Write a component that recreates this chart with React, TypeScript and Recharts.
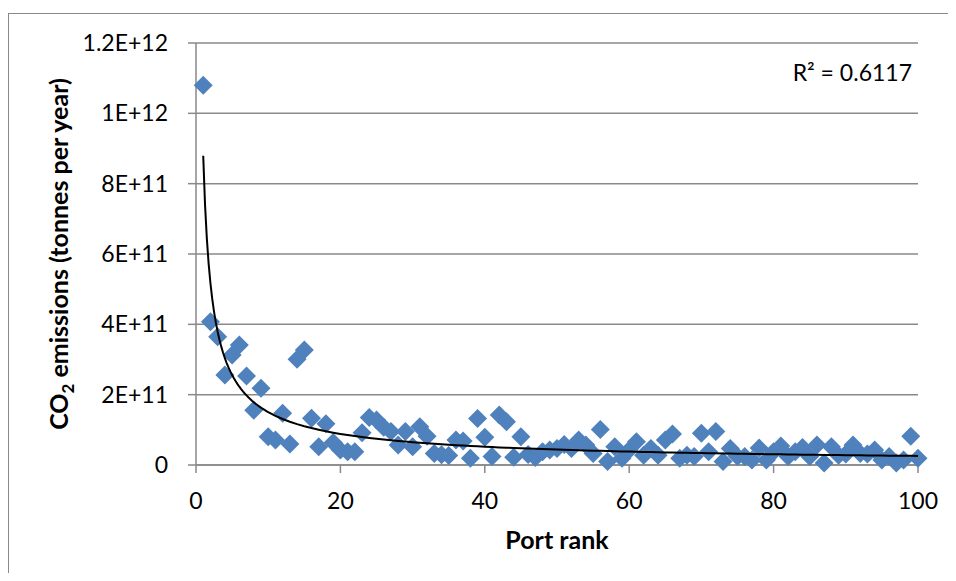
import React from 'react'
import { ScatterChart, Scatter, XAxis, YAxis, CartesianGrid } from 'recharts'

// Port rank 1..100
const RANKS = Array.from({ length: 100 }, (_, i) => i + 1)

// CO2 emissions per port, in units of 1E+11 tonnes per year
const EMISSIONS = [
  10.8, 4.07, 3.65, 2.56, 3.13, 3.41, 2.53, 1.56, 2.18, 0.8,
  0.71, 1.47, 0.6, 3.01, 3.27, 1.33, 0.52, 1.17, 0.64, 0.43,
  0.38, 0.38, 0.92, 1.35, 1.28, 1.07, 0.95, 0.57, 0.95, 0.52,
  1.09, 0.82, 0.33, 0.29, 0.27, 0.71, 0.68, 0.19, 1.32, 0.79,
  0.24, 1.42, 1.23, 0.22, 0.8, 0.3, 0.21, 0.38, 0.43, 0.47,
  0.58, 0.47, 0.71, 0.57, 0.33, 1.01, 0.1, 0.52, 0.19, 0.43,
  0.66, 0.28, 0.47, 0.28, 0.71, 0.88, 0.19, 0.28, 0.24, 0.9,
  0.38, 0.95, 0.1, 0.47, 0.24, 0.24, 0.14, 0.48, 0.14, 0.38,
  0.54, 0.24, 0.38, 0.5, 0.24, 0.57, 0.06, 0.52, 0.28, 0.31,
  0.57, 0.33, 0.31, 0.43, 0.14, 0.24, 0.06, 0.14, 0.82, 0.19,
]

const X_TICKS = [0, 20, 40, 60, 80, 100]
const Y_TICKS = [0, 2e11, 4e11, 6e11, 8e11, 1e12, 1.2e12]
const Y_LABELS = ['0', '2E+11', '4E+11', '6E+11', '8E+11', '1E+12', '1.2E+12']

const R_SQUARED = '0.6117'

const BLUE = '#4F81BD'
const GRID = '#898989'
const FONT = 'Lato, "Open Sans", sans-serif'

const points = RANKS.map((x, i) => ({ x, y: EMISSIONS[i] * 1e11 }))

// power trendline, fitted the way Excel does it (least squares on log-log)
function powerFit(data: { x: number; y: number }[]) {
  const n = data.length
  let sx = 0, sy = 0, sxy = 0, sxx = 0
  data.forEach((d) => {
    const lx = Math.log(d.x)
    const ly = Math.log(d.y)
    sx += lx
    sy += ly
    sxy += lx * ly
    sxx += lx * lx
  })
  const b = (n * sxy - sx * sy) / (n * sxx - sx * sx)
  const a = Math.exp((sy - b * sx) / n)
  return { a, b }
}

const fit = powerFit(points)
const trendX: number[] = []
for (let x = 1; x <= 100; x += x < 10 ? 0.25 : 1) trendX.push(x)
const trend = trendX.map((x) => ({ x, y: fit.a * Math.pow(x, fit.b) }))

function Diamond(props: any) {
  const { cx, cy } = props
  const h = 9.5
  return (
    <polygon
      points={`${cx},${cy - h} ${cx + h},${cy} ${cx},${cy + h} ${cx - h},${cy}`}
      fill={BLUE}
    />
  )
}

function YTitle() {
  return (
    <text
      x={0}
      y={0}
      transform="translate(59, 240) rotate(-90)"
      textAnchor="middle"
      fontFamily={FONT}
      fontWeight="bold"
      fontSize={25}
      fill="#000"
    >
      CO
      <tspan fontSize={17} dy={6}>2</tspan>
      <tspan dy={-6}> emissions (tonnes per year)</tspan>
    </text>
  )
}

function XTitle() {
  return (
    <text
      x={548}
      y={535}
      textAnchor="middle"
      fontFamily={FONT}
      fontWeight="bold"
      fontSize={25}
      fill="#000"
    >
      Port rank
    </text>
  )
}

export default function App() {
  return (
    <div style={{ paddingTop: 5 }}>
      <div
        style={{
          position: 'relative',
          width: 948,
          height: 560,
          boxSizing: 'border-box',
          borderTop: `1px solid ${GRID}`,
          borderLeft: `1px solid ${GRID}`,
        }}
      >
        <ScatterChart
          width={940}
          height={559}
          margin={{ top: 29, right: 31, left: 87, bottom: 28 }}
        >
          <CartesianGrid vertical={false} stroke={GRID} strokeWidth={1.5} />
          <XAxis
            type="number"
            dataKey="x"
            domain={[0, 100]}
            ticks={X_TICKS}
            interval={0}
            height={80}
            stroke={GRID}
            strokeWidth={1.5}
            tickSize={8}
            tickMargin={20}
            tick={{ fontSize: 23, fill: '#000', fontFamily: FONT }}
            label={<XTitle />}
          />
          <YAxis
            type="number"
            dataKey="y"
            domain={[0, 1.2e12]}
            ticks={Y_TICKS}
            interval={0}
            width={100}
            stroke={GRID}
            strokeWidth={1.5}
            tickSize={8}
            tickMargin={20}
            tickFormatter={(v: number) => Y_LABELS[Y_TICKS.indexOf(v)] ?? ''}
            tick={{ fontSize: 23, fill: '#000', fontFamily: FONT }}
            label={<YTitle />}
          />
          <Scatter data={points} shape={<Diamond />} isAnimationActive={false} />
          <Scatter
            data={trend}
            line={{ stroke: '#000', strokeWidth: 2 }}
            lineType="joint"
            shape={() => <g />}
            isAnimationActive={false}
          />
        </ScatterChart>
        <div
          style={{
            position: 'absolute',
            right: 44,
            top: 44,
            fontFamily: FONT,
            fontSize: 23,
            color: '#000',
            whiteSpace: 'nowrap',
          }}
        >
          R² = {R_SQUARED}
        </div>
      </div>
    </div>
  )
}
